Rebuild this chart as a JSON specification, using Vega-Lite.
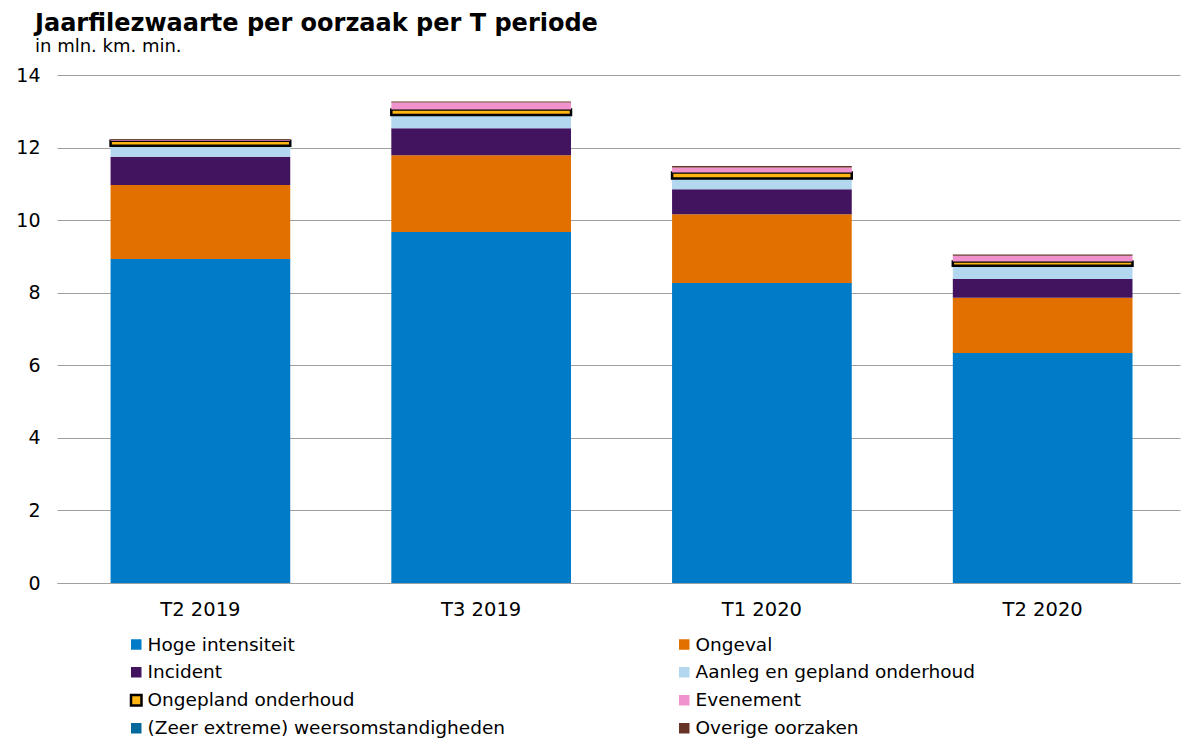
{
  "$schema": "https://vega.github.io/schema/vega-lite/v6.json",
  "width": 1123,
  "height": 508,
  "autosize": {"type": "none"},
  "padding": {"left": 57, "top": 75, "right": 9, "bottom": 157},
  "background": "white",
  "config": {"view": {"stroke": null}, "font": "DejaVu Sans"},
  "title": {
    "text": "Jaarfilezwaarte per oorzaak per T periode",
    "subtitle": "in mln. km. min.",
    "anchor": "start",
    "frame": "group",
    "dx": -22,
    "offset": 10,
    "font": "DejaVu Sans",
    "fontSize": 24,
    "fontWeight": "bold",
    "color": "#000000",
    "subtitleFont": "DejaVu Sans",
    "subtitleFontSize": 18,
    "subtitleColor": "#000000",
    "subtitlePadding": 2
  },
  "data": {
    "values": [
      {"periode": "T2 2019", "oorzaak": "Hoge intensiteit", "volgorde": 1, "waarde": 8.93},
      {"periode": "T2 2019", "oorzaak": "Ongeval", "volgorde": 2, "waarde": 2.04},
      {"periode": "T2 2019", "oorzaak": "Incident", "volgorde": 3, "waarde": 0.78},
      {"periode": "T2 2019", "oorzaak": "Aanleg en gepland onderhoud", "volgorde": 4, "waarde": 0.30},
      {"periode": "T2 2019", "oorzaak": "Ongepland onderhoud", "volgorde": 5, "waarde": 0.14},
      {"periode": "T2 2019", "oorzaak": "Evenement", "volgorde": 6, "waarde": 0.02},
      {"periode": "T2 2019", "oorzaak": "(Zeer extreme) weersomstandigheden", "volgorde": 7, "waarde": 0.0},
      {"periode": "T2 2019", "oorzaak": "Overige oorzaken", "volgorde": 8, "waarde": 0.02},
      {"periode": "T3 2019", "oorzaak": "Hoge intensiteit", "volgorde": 1, "waarde": 9.67},
      {"periode": "T3 2019", "oorzaak": "Ongeval", "volgorde": 2, "waarde": 2.12},
      {"periode": "T3 2019", "oorzaak": "Incident", "volgorde": 3, "waarde": 0.74},
      {"periode": "T3 2019", "oorzaak": "Aanleg en gepland onderhoud", "volgorde": 4, "waarde": 0.37},
      {"periode": "T3 2019", "oorzaak": "Ongepland onderhoud", "volgorde": 5, "waarde": 0.15},
      {"periode": "T3 2019", "oorzaak": "Evenement", "volgorde": 6, "waarde": 0.19},
      {"periode": "T3 2019", "oorzaak": "(Zeer extreme) weersomstandigheden", "volgorde": 7, "waarde": 0.0},
      {"periode": "T3 2019", "oorzaak": "Overige oorzaken", "volgorde": 8, "waarde": 0.03},
      {"periode": "T1 2020", "oorzaak": "Hoge intensiteit", "volgorde": 1, "waarde": 8.27},
      {"periode": "T1 2020", "oorzaak": "Ongeval", "volgorde": 2, "waarde": 1.89},
      {"periode": "T1 2020", "oorzaak": "Incident", "volgorde": 3, "waarde": 0.69},
      {"periode": "T1 2020", "oorzaak": "Aanleg en gepland onderhoud", "volgorde": 4, "waarde": 0.30},
      {"periode": "T1 2020", "oorzaak": "Ongepland onderhoud", "volgorde": 5, "waarde": 0.16},
      {"periode": "T1 2020", "oorzaak": "Evenement", "volgorde": 6, "waarde": 0.14},
      {"periode": "T1 2020", "oorzaak": "(Zeer extreme) weersomstandigheden", "volgorde": 7, "waarde": 0.0},
      {"periode": "T1 2020", "oorzaak": "Overige oorzaken", "volgorde": 8, "waarde": 0.04},
      {"periode": "T2 2020", "oorzaak": "Hoge intensiteit", "volgorde": 1, "waarde": 6.34},
      {"periode": "T2 2020", "oorzaak": "Ongeval", "volgorde": 2, "waarde": 1.52},
      {"periode": "T2 2020", "oorzaak": "Incident", "volgorde": 3, "waarde": 0.52},
      {"periode": "T2 2020", "oorzaak": "Aanleg en gepland onderhoud", "volgorde": 4, "waarde": 0.36},
      {"periode": "T2 2020", "oorzaak": "Ongepland onderhoud", "volgorde": 5, "waarde": 0.12},
      {"periode": "T2 2020", "oorzaak": "Evenement", "volgorde": 6, "waarde": 0.16},
      {"periode": "T2 2020", "oorzaak": "(Zeer extreme) weersomstandigheden", "volgorde": 7, "waarde": 0.0},
      {"periode": "T2 2020", "oorzaak": "Overige oorzaken", "volgorde": 8, "waarde": 0.03}
    ]
  },
  "mark": {"type": "bar", "strokeWidth": 2.5},
  "encoding": {
    "x": {
      "field": "periode",
      "type": "nominal",
      "sort": ["T2 2019", "T3 2019", "T1 2020", "T2 2020"],
      "scale": {"paddingInner": 0.36, "paddingOuter": 0.18, "align": 0.53},
      "axis": {
        "title": null,
        "labelAngle": 0,
        "labelFont": "DejaVu Sans",
        "labelFontSize": 19.5,
        "labelColor": "#000000",
        "labelPadding": 17,
        "ticks": false,
        "domainColor": "#a0a0a0",
        "domainWidth": 1
      }
    },
    "y": {
      "field": "waarde",
      "type": "quantitative",
      "stack": "zero",
      "scale": {"domain": [0, 14], "nice": false},
      "axis": {
        "title": null,
        "values": [0, 2, 4, 6, 8, 10, 12, 14],
        "domain": false,
        "ticks": false,
        "gridColor": "#a0a0a0",
        "gridWidth": 1,
        "labelFont": "DejaVu Sans",
        "labelFontSize": 19,
        "labelColor": "#000000",
        "labelPadding": 17
      }
    },
    "fill": {
      "field": "oorzaak",
      "type": "nominal",
      "scale": {
        "domain": ["Hoge intensiteit", "Ongeval", "Incident", "Aanleg en gepland onderhoud", "Ongepland onderhoud", "Evenement", "(Zeer extreme) weersomstandigheden", "Overige oorzaken"],
        "range": ["#007bc7", "#e17000", "#42145f", "#b2d7ee", "#ffb612", "#f092cd", "#01689b", "#673327"]
      },
      "legend": {
        "title": null,
        "orient": "none",
        "direction": "horizontal",
        "legendX": 70,
        "legendY": 560,
        "columns": 2,
        "columnPadding": 169,
        "rowPadding": 7,
        "padding": 0,
        "symbolType": "square",
        "symbolSize": 110,
        "symbolStrokeWidth": 2.5,
        "labelFont": "DejaVu Sans",
        "labelFontSize": 18.5,
        "labelColor": "#000000",
        "labelOffset": 2,
        "labelLimit": 600
      }
    },
    "stroke": {
      "field": "oorzaak",
      "type": "nominal",
      "scale": {
        "domain": ["Hoge intensiteit", "Ongeval", "Incident", "Aanleg en gepland onderhoud", "Ongepland onderhoud", "Evenement", "(Zeer extreme) weersomstandigheden", "Overige oorzaken"],
        "range": ["transparent", "transparent", "transparent", "transparent", "#000000", "transparent", "transparent", "transparent"]
      }
    },
    "order": {"field": "volgorde", "type": "quantitative"}
  }
}
